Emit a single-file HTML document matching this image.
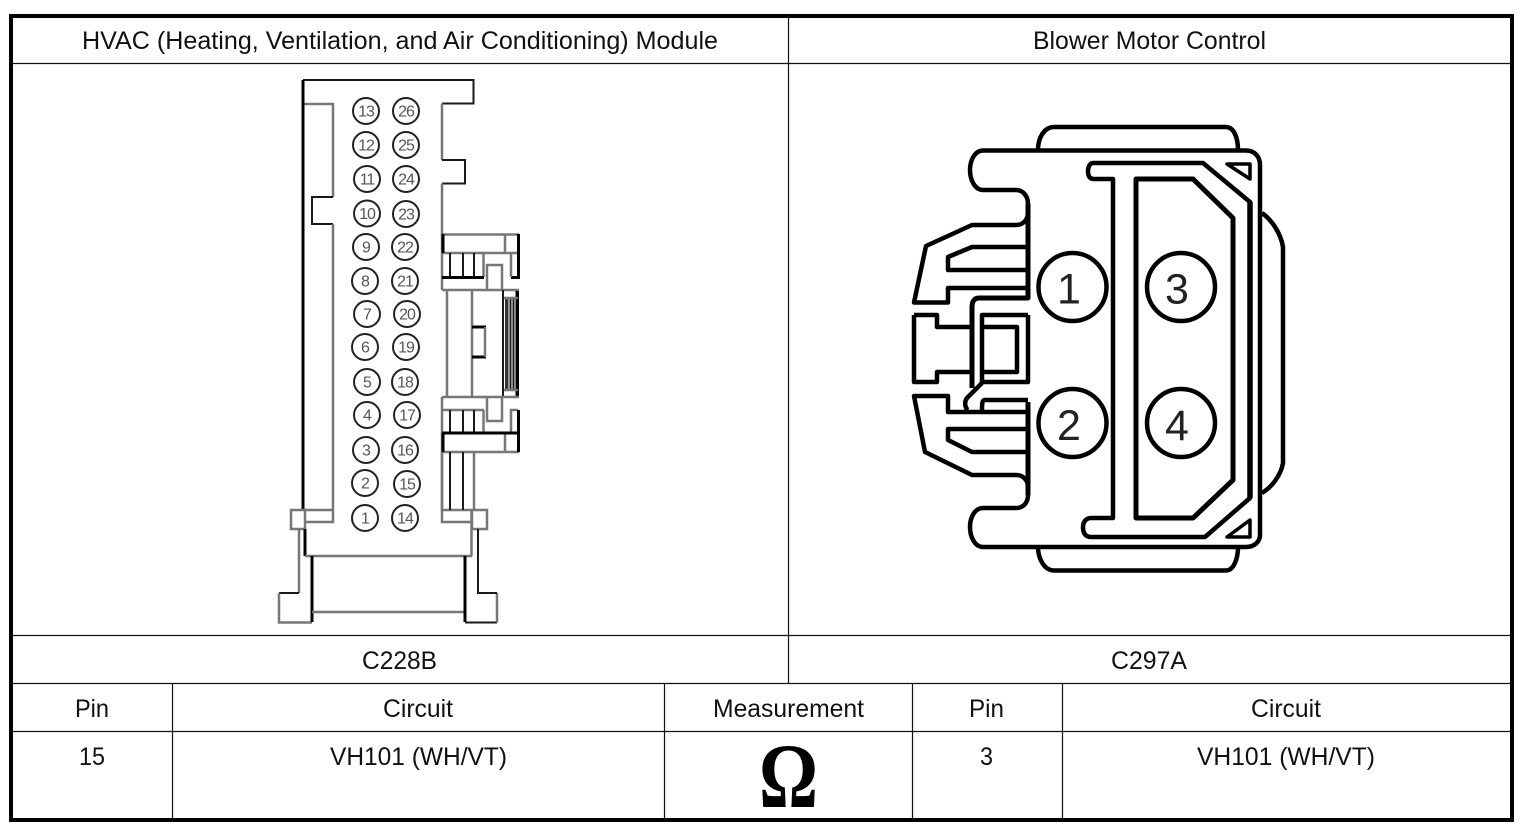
<!DOCTYPE html>
<html><head><meta charset="utf-8"><title>HVAC Module and Blower Motor Control</title>
<style>html,body{margin:0;padding:0;background:#fff}svg{display:block}
text{font-family:"Liberation Sans",sans-serif;font-size:25px;fill:#111}
.p text{font-size:16px;fill:#555;text-anchor:middle;letter-spacing:-1px}
.p circle{fill:none;stroke:#222;stroke-width:2}
.g{fill:none;stroke:#777;stroke-width:2.5}
.k{fill:none;stroke:#1a1a1a;stroke-width:2}
.b{fill:none;stroke:#000;stroke-width:3}
.r{fill:none;stroke:#000;stroke-width:4.5;stroke-linejoin:round}
.d text{font-size:43px;fill:#222;text-anchor:middle}
</style></head><body>
<svg width="1526" height="830" viewBox="0 0 1526 830" xmlns="http://www.w3.org/2000/svg">
<rect width="1526" height="830" fill="#fff"/>
<!-- table grid -->
<g stroke="#111" stroke-width="1.2" fill="none">
<path d="M11 63.5H1512M11 635.5H1512M11 683.5H1512M11 731.5H1512"/>
<path d="M788.5 16V683M172.5 683V820M664.5 683V820M912.5 683V820M1062.5 683V820"/>
</g>
<rect x="11" y="16" width="1501" height="804" fill="none" stroke="#000" stroke-width="4"/>
<!-- labels -->
<text x="82" y="49" textLength="636" lengthAdjust="spacingAndGlyphs">HVAC (Heating, Ventilation, and Air Conditioning) Module</text>
<text x="1033" y="49" textLength="233" lengthAdjust="spacingAndGlyphs">Blower Motor Control</text>
<text x="362" y="669" textLength="75" lengthAdjust="spacingAndGlyphs">C228B</text>
<text x="1111" y="669" textLength="76" lengthAdjust="spacingAndGlyphs">C297A</text>
<text x="75" y="717" textLength="34" lengthAdjust="spacingAndGlyphs">Pin</text>
<text x="383" y="717" textLength="70" lengthAdjust="spacingAndGlyphs">Circuit</text>
<text x="713" y="717" textLength="151" lengthAdjust="spacingAndGlyphs">Measurement</text>
<text x="969" y="717" textLength="35" lengthAdjust="spacingAndGlyphs">Pin</text>
<text x="1251" y="717" textLength="70" lengthAdjust="spacingAndGlyphs">Circuit</text>
<text x="79" y="765" textLength="26" lengthAdjust="spacingAndGlyphs">15</text>
<text x="330" y="765" textLength="177" lengthAdjust="spacingAndGlyphs">VH101 (WH/VT)</text>
<text x="980" y="765" textLength="13" lengthAdjust="spacingAndGlyphs">3</text>
<text x="1197" y="765" textLength="178" lengthAdjust="spacingAndGlyphs">VH101 (WH/VT)</text>
<text x="759" y="807" textLength="59" lengthAdjust="spacingAndGlyphs" style="font-family:'Liberation Serif',serif;font-weight:bold;font-size:92px;fill:#000">Ω</text>

<!-- left connector body -->
<path class="k" d="M303 80H473.5V103.5H442" stroke-width="2.5"/>
<path class="g" d="M303 104H333V197"/>
<path class="k" d="M333 197H312V224H333"/>
<path class="g" d="M333 224V522H305M333 510H303"/>
<path class="b" d="M303 80V510" stroke-width="2.5"/>
<path class="g" d="M442 103.5V160"/>
<path class="k" d="M442 160H465V183.5H442"/>
<path class="g" d="M442 183.5V290M442 397V522H471M442 510H471"/>
<rect x="291" y="510" width="14" height="19" class="g"/>
<rect x="472" y="510" width="15" height="19" class="g"/>
<path class="b" d="M305 529V556" stroke-width="2"/>
<path class="g" d="M305 556H472M471.500 510V556"/>
<path class="g" d="M299 529V593"/>
<path class="k" d="M299 593H279"/>
<path class="g" d="M279 593V622.500H312"/>
<path class="b" d="M312 556V622" stroke-width="2"/>
<path class="g" d="M312 612H465"/>
<path class="b" d="M465 556V622" stroke-width="2"/>
<path class="k" d="M465 622.500H497"/>
<path class="g" d="M497 622.500V593"/>
<path class="k" d="M497 593H478V529"/>
<!-- latch top -->
<path class="g" d="M443 234.500H519M443 253H519M505 234V253M442 290H519M483.500 253V277"/>
<path class="b" d="M443 234V253M518.500 234V277.500H511M442 277.500H484"/>
<path class="k" d="M450 253V277M463 253V277M474 253V277"/>
<path class="g" d="M511 253V277M487 290V265H502V290"/>
<!-- latch middle -->
<path class="g" d="M447 290V397" stroke-width="4" stroke="#888"/>
<path class="g" d="M472 290V397"/>
<path class="b" d="M472 327H486" stroke-width="4"/>
<path class="b" d="M472 357H486" stroke-width="4"/>
<path class="g" d="M485 327V357" stroke-width="3"/>
<path class="k" d="M503 290V397"/>
<rect x="505" y="299" width="3.500" height="90" fill="#333"/>
<path class="k" d="M510.500 299V389M513.500 299V389"/>
<rect x="515.500" y="291" width="3.500" height="105" fill="#000"/>
<path class="g" d="M504 298H518M504 390H518" stroke-width="1.500"/>
<!-- latch bottom -->
<path class="g" d="M442 397H519M442 410H484M483.500 410V433M487 397V421H502V397M511 433V410H518M505 433V452M442 452H519"/>
<path class="k" d="M450 410V433M463 410V433M474 410V433"/>
<path class="b" d="M443 433V452M518.500 410V452M442 433H519" stroke-width="2.500"/>
<path class="g" d="M442 452V510M474 452V510"/>
<path class="k" d="M450 452V510M463 452V510"/>

<!-- pins -->
<g class="p">
<circle cx="366" cy="111" r="13"/><text x="366" y="116.500">13</text>
<circle cx="366" cy="145" r="13"/><text x="366" y="150.500">12</text>
<circle cx="367" cy="179" r="13"/><text x="367" y="184.500">11</text>
<circle cx="367" cy="213.500" r="13"/><text x="367" y="219">10</text>
<circle cx="366" cy="247" r="13"/><text x="366" y="252.500">9</text>
<circle cx="365" cy="281" r="13"/><text x="365" y="286.500">8</text>
<circle cx="367" cy="314" r="13"/><text x="367" y="319.500">7</text>
<circle cx="365" cy="347" r="13"/><text x="365" y="352.500">6</text>
<circle cx="367" cy="382" r="13"/><text x="367" y="387.500">5</text>
<circle cx="367" cy="415" r="13"/><text x="367" y="420.500">4</text>
<circle cx="366" cy="450" r="13"/><text x="366" y="455.500">3</text>
<circle cx="365" cy="483" r="13"/><text x="365" y="488.500">2</text>
<circle cx="365" cy="518" r="13"/><text x="365" y="523.500">1</text>
<circle cx="406" cy="111" r="13"/><text x="406" y="116.500">26</text>
<circle cx="406" cy="145" r="13"/><text x="406" y="150.500">25</text>
<circle cx="406" cy="179" r="13"/><text x="406" y="184.500">24</text>
<circle cx="406" cy="214" r="13"/><text x="406" y="219.500">23</text>
<circle cx="405" cy="247" r="13"/><text x="405" y="252.500">22</text>
<circle cx="405" cy="281" r="13"/><text x="405" y="286.500">21</text>
<circle cx="407" cy="314" r="13"/><text x="407" y="319.500">20</text>
<circle cx="406" cy="347" r="13"/><text x="406" y="352.500">19</text>
<circle cx="405" cy="382" r="13"/><text x="405" y="387.500">18</text>
<circle cx="407" cy="415" r="13"/><text x="407" y="420.500">17</text>
<circle cx="405" cy="450" r="13"/><text x="405" y="455.500">16</text>
<circle cx="407" cy="484" r="13"/><text x="407" y="489.500">15</text>
<circle cx="405" cy="518" r="13"/><text x="405" y="523.500">14</text>
</g>

<!-- right connector -->
<g class="r">
<path d="M1038 150C1038 138 1044 127 1054 127H1226C1234 127 1238 138 1238 150"/>
<path d="M1038 547C1038 558 1044 570.500 1054 570.500H1226C1234 570.500 1238 558 1238 547"/>
<path d="M983 150.500H1246C1254 150.500 1260 156 1260 165V535C1260 542 1254 547 1246 547H983C975 547 970 537 970 527C970 517 975 508 983 508H1016C1023 508 1028 503 1028 495V487C1028 480 1023 475 1016 475H972L925 452L914 396H948V412H1028"/>
<path d="M983 150.500C975 150.500 970 160 970 170C970 180 975 190 983 190H1016C1023 190 1028 196 1028 204V212C1028 220 1023 225 1016 225H972L926 246L914 302.500H948V288H1028"/>
<path d="M1028 204V298H979C974 298 972 302 972 307V388" stroke-width="5"/>
<path d="M1028 402V495" stroke-width="5"/>
<path d="M1028 247H972L948 257V270H1028"/>
<path d="M1028 429H948V440L972 452H1028"/>
<path d="M1028 315V382H982V315H1028"/>
<path d="M982 327H1017V372H982"/>
<path d="M914 315H937V327H971M914 315V382H937V372H971"/>
<path d="M982 383L967 398C964 402 965 408 968 410M982 410C982 404 982 400 985 400H1028"/>
<!-- inner T -->
<path d="M1093 163H1203L1250 202V498L1205 537H1091C1084 537 1083 531 1083 527C1083 522 1086 518 1091 518H1113V179H1094C1089 179 1088 175 1088 171C1088 167 1090 163 1093 163Z"/>
<path d="M1136 179V518H1193L1233 480V218L1193 179Z" stroke-width="5"/>
<path d="M1250 202V498" stroke-width="5.500"/>
<path d="M1262 213C1272 220 1281 234 1283 247V463C1281 475 1272 487 1262 493"/>
<path d="M1227 164H1250V179Z" stroke-width="3.500"/>
<path d="M1250 520L1227 537H1250Z" stroke-width="3.500"/>
<circle cx="1072.500" cy="287" r="34"/>
<circle cx="1072.500" cy="423" r="34"/>
<circle cx="1181" cy="287" r="34"/>
<circle cx="1181" cy="423" r="34"/>
</g>
<g class="d">
<text x="1069" y="303.500">1</text>
<text x="1069" y="440">2</text>
<text x="1177" y="303.500">3</text>
<text x="1177" y="440">4</text>
</g>
</svg>
</body></html>
